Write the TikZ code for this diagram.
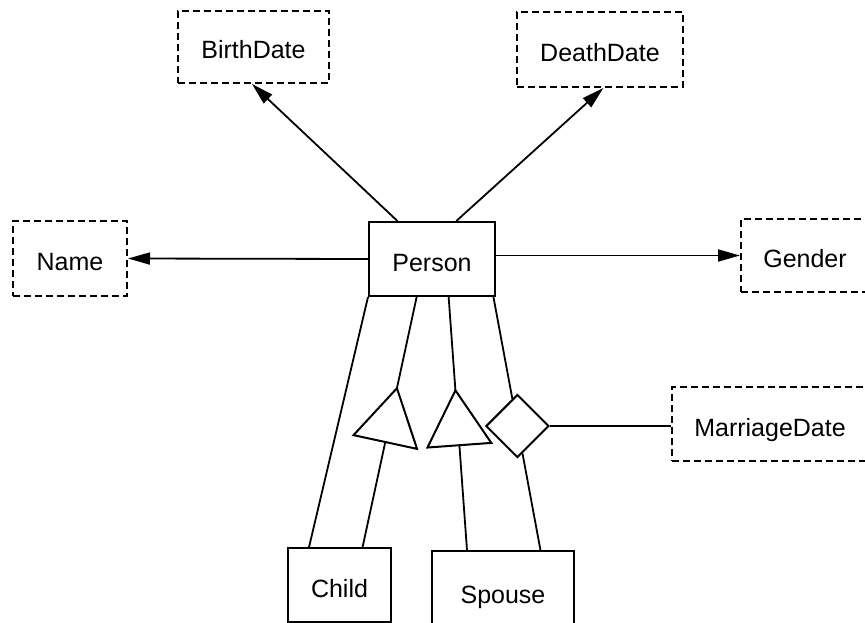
\documentclass[tikz,border=0pt]{standalone}
\usepackage{fontspec}
\setmainfont{Liberation Sans}
\usetikzlibrary{shapes.geometric,arrows.meta,calc}
\tikzset{
  base/.style={draw=black, line width=2pt, inner sep=0pt, text height=24pt, text depth=0pt,
    font=\fontsize{25}{30}\selectfont},
  entity/.style={base, rectangle},
  attrib/.style={base, rectangle, dash pattern=on 7pt off 4pt},
  rel/.style={draw=black, line width=2pt, diamond, aspect=1, minimum width=63pt, minimum height=63pt, inner sep=0pt},
  conn/.style={line width=1.8pt},
  arr/.style={conn, -{Triangle[length=22pt,width=12pt]}},
  tri/.style={line width=2pt, line join=miter, fill=white}
}
\begin{document}
\begin{tikzpicture}[x=1pt,y=-1pt]
\clip (0,0) rectangle (865,623);
\fill[white] (0,0) rectangle (865,623);
% entities and attributes
\node[entity, minimum width=126pt, minimum height=74pt] (person) at (432,259) {Person};
\node[attrib, minimum width=151pt, minimum height=72pt] (birth) at (253.5,47) {BirthDate};
\node[attrib, minimum width=166pt, minimum height=75pt] (death) at (600,49.5) {DeathDate};
\node[attrib, minimum width=114pt, minimum height=75pt] (name) at (70,258.5) {Name};
\node[attrib, minimum width=128pt, minimum height=73pt] (gender) at (805,255.5) {Gender};
\node[attrib, minimum width=196pt, minimum height=74pt] (mdate) at (770,424) {MarriageDate};
\node[entity, minimum width=103pt, minimum height=74pt] (child) at (339.5,585) {Child};
\node[entity, minimum width=142pt, minimum height=80pt] (spouse) at (503,591) {Spouse};
% attribute arrows
\draw[arr] ($(person.north west)!0.23!(person.north east)$) -- ($(birth.south west)!0.49!(birth.south east)$);
\draw[arr] ($(person.north west)!0.69!(person.north east)$) -- ($(death.south west)!0.52!(death.south east)$);
\draw[arr] (person.west) -- (name.east);
\draw[arr] (gender.west -| person.east) -- (gender.west);
% line 1: person -> child
\draw[conn] (person.south west) -- ($(child.north west)!0.21!(child.north east)$);
% line 2 with triangle 1
\coordinate (p2) at ($(person.south west)!0.38!(person.south east)$);
\coordinate (c2) at ($(child.north west)!0.72!(child.north east)$);
\coordinate (t1apex) at ($(p2)!0.365!(c2)$);
\coordinate (t1base) at ($(t1apex)!55pt!(c2)$);
\draw[conn] (p2) -- (t1apex);
\draw[conn] (t1base) -- (c2);
\draw[tri] (t1apex) -- ($(t1base)!32.5pt!90:(t1apex)$) -- ($(t1base)!32.5pt!-90:(t1apex)$) -- cycle;
% line 3 with triangle 2
\coordinate (p3) at ($(person.south west)!0.63!(person.south east)$);
\coordinate (s3) at ($(spouse.north west)!0.25!(spouse.north east)$);
\coordinate (t2apex) at ($(p3)!0.369!(s3)$);
\coordinate (t2base) at ($(t2apex)!55pt!(s3)$);
\draw[conn] (p3) -- (t2apex);
\draw[conn] (t2base) -- (s3);
\draw[tri] (t2apex) -- ($(t2base)!32pt!90:(t2apex)$) -- ($(t2base)!32pt!-90:(t2apex)$) -- cycle;
% line 4 with diamond
\coordinate (p4) at ($(person.south west)!0.98!(person.south east)$);
\coordinate (s4) at ($(spouse.north west)!0.76!(spouse.north east)$);
\node[rel] (marr) at ($(p4)!0.51!(s4)$) {};
\draw[conn] (p4) -- (marr);
\draw[conn] (marr) -- (s4);
\draw[conn] (marr.east) -- (mdate.west |- marr.east);
\end{tikzpicture}
\end{document}
